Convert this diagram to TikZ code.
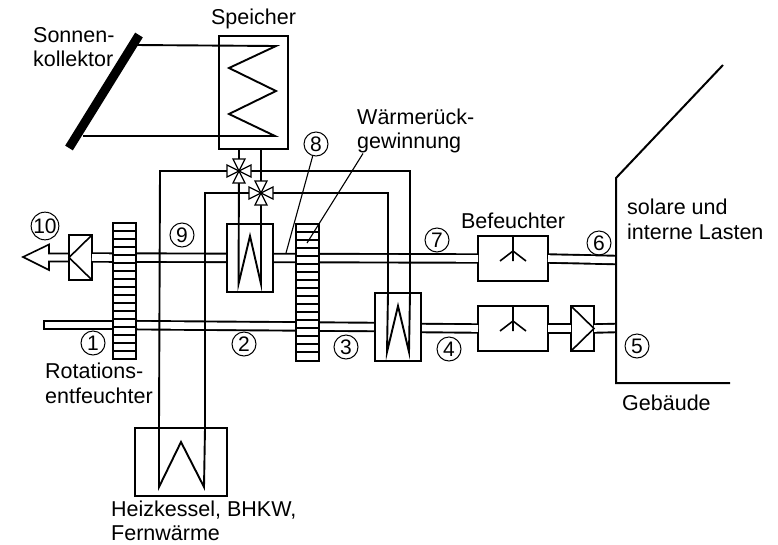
\documentclass[tikz,border=0pt]{standalone}
\usepackage{fontspec}
\setmainfont{Liberation Sans}
\usetikzlibrary{
  positioning,
  calc
}
\tikzset{
  anlage/.style={
    draw, fill=white, rectangle, inner sep=0pt, outer sep=0pt, line width=1.9pt
  },
  speicher/.style={anlage, minimum width=69pt, minimum height=113pt},
  waermetauscher/.style={anlage, minimum width=46pt, minimum height=68pt},
  kessel/.style={anlage, minimum width=92pt, minimum height=68pt},
  rotor/.style={anlage, minimum width=23pt},
  ventilator/.style={anlage, minimum width=23pt, minimum height=45pt},
  befeuchter/.style={anlage, minimum width=70pt, minimum height=45pt},
  einlass/.style={anlage, minimum width=69pt, minimum height=8.5pt},
  ventil/.style={circle, fill=black, inner sep=0pt, minimum size=3.5pt},
  ventilzweig/.style={draw, fill=white, line width=1.3pt},
  luft/.style={double, double distance=6.6pt, line width=1.9pt},
  rohr/.style={line width=1.9pt, line join=miter},
  fein/.style={line width=1.1pt},
  streifen/.style={line width=1.3pt},
  wand/.style={line width=2pt},
  nummer/.style={draw, circle, line width=1pt, minimum size=24pt, inner sep=0pt, font=\fontsize{21}{22}\selectfont},
  beschriftung/.style={align=left, inner sep=0pt, font=\fontsize{21.5}{24.5}\selectfont}
}

\begin{document}
\begin{tikzpicture}[x=1pt, y=-1pt]
  \useasboundingbox (0,0) rectangle (778,544);
  \coordinate (dachEnde) at (723,65);
  \coordinate (dachEcke) at (616,178);
  \coordinate (wandFuss) at (616,383);
  \coordinate (bodenEnde) at (730,383);
  \coordinate (wandOben) at (616,260);
  \coordinate (wandUnten) at (616,328);
  \coordinate (kollOben) at (139,35);
  \coordinate (kollUnten) at (69,148);
  \coordinate (leitung8) at (286,253);
  \coordinate (leitungRotor) at (307,243);

  % nodes
  \node[speicher] (sp) at (253.5,92.5) {};
  \node[ventilator] (fanA) at (80.5,257.5) {};
  \node[ventilator] (fanB) at (582.5,328.5) {};
  \node[befeuchter] (befA) at (513,258.5) {};
  \node[befeuchter] (befB) at (513,328.5) {};
  \node[einlass] (ein) at (78.5,325) {};

  % air ducts
  \draw[luft] (fanA.east) -- (befA.west);
  \draw[luft] (befA.east) -- (wandOben);
  \draw[luft] (ein.east) -- (375,327);
  \draw[luft] (421,328) -- (befB.west);
  \draw[luft] (befB.east) -- (fanB.west);
  \draw[luft] (fanB.east) -- (wandUnten);

  \node[waermetauscher] (wtA) at (250,258) {};
  \node[waermetauscher] (wtB) at (398,327) {};
  \node[kessel] (hk) at (181,462) {};
  \node[rotor, minimum height=136pt] (rotA) at (124.5,291) {};
  \node[rotor, minimum height=137pt] (rotB) at (307.5,292.5) {};
  \foreach \r in {rotA,rotB}
    \foreach \y in {8,16,...,128}
      \draw[streifen] ($(\r.north west)+(0pt,-\y pt)$) -- ($(\r.north east)+(0pt,-\y pt)$);

  % building
  \draw[wand] (dachEnde) -- (dachEcke) -- (wandFuss) -- (bodenEnde);

  % collector loop
  \draw[rohr] (135,45) -- (276,46) -- (229,68) -- (276,91) -- (229,114) -- (275,136) -- (83,136);
  \draw[line width=9pt] (kollOben) -- (kollUnten);

  % valves
  \node[ventil] (vA) at (239,171) {};
  \node[ventil] (vB) at (261,193) {};
  \draw[rohr] (sp.south -| vA) -- (vA) -- (238.5,284) -- (250,236) -- (261,284) -- (vB) -- (sp.south -| vB);
  \draw[rohr] (vA) -- (410,171) -- (410,293) -- (409,352) -- (398,306) -- (387,352) -- (388,293) -- (388,193) -- (vB);
  \draw[rohr] (vA) -- (160,171) -- (159,428) -- (159,487) -- (181,442) -- (204,487) -- (205,428) -- (205,193) -- (vB);
  \foreach \v in {vA,vB}
    \foreach \a in {0,90,180,270}
      \draw[ventilzweig, shift={(\v)}, rotate=\a] (0,0) -- (12,-6) -- (12,6) -- cycle;
  \node[ventil] at (vA) {};
  \node[ventil] at (vB) {};

  % fans
  \draw[line width=1.6pt] (fanA.north east) -- (fanA.west) -- (fanA.south east);
  \draw[line width=1.6pt] (fanB.north west) -- (fanB.east) -- (fanB.south west);
  \draw[line width=1.6pt] (fanA.west) ++(0,-4) -- ++(-20,0) -- ++(0,-9) -- ++(-26,12.5) -- ++(26,13) -- ++(0,-8.5) -- ++(20,0);

  % humidifiers
  \draw[line width=1.6pt] (befA.north) -- ++(0,25) (500,261) -- ($(befA.north)+(0,15)$) -- (526,261);
  \draw[line width=1.6pt] (befB.north) -- ++(0,25) (500,331) -- ($(befB.north)+(0,15)$) -- (526,331);

  % labels
  \node[beschriftung, above=7pt of sp] (lSp) {Speicher};
  \node[beschriftung, above=7pt of befA] (lBef) {Befeuchter};
  \node[beschriftung, anchor=west] (lKoll) at (33,47) {Sonnen-\\kollektor};
  \node[beschriftung, anchor=west] (lWrg) at (357,131) {Wärmerück-\\gewinnung};
  \node[beschriftung, anchor=west] (lLast) at (627,219.5) {solare und\\interne Lasten};
  \node[beschriftung, anchor=west] (lGeb) at (622,403) {Gebäude};
  \node[beschriftung, anchor=west] (lRot) at (45,383.5) {Rotations-\\entfeuchter};
  \node[beschriftung, anchor=west] (lHk) at (111,521) {Heizkessel, BHKW,\\[-1pt]Fernwärme};

  % numbers
  \node[nummer] (n10) at (45,226) {10};
  \node[nummer] (n9) at (182,235) {9};
  \node[nummer] (n8) at (316,144) {8};
  \node[nummer] (n7) at (437,240) {7};
  \node[nummer] (n6) at (599,243) {6};
  \node[nummer] (n5) at (637,346) {5};
  \node[nummer] (n4) at (449,349) {4};
  \node[nummer] (n3) at (346,347) {3};
  \node[nummer] (n2) at (244,344) {2};
  \node[nummer] (n1) at (93,343) {1};

  % leaders
  \draw[fein] (n8) -- (leitung8);
  \draw[fein] (lWrg.south west) ++(6,0) -- (leitungRotor);
\end{tikzpicture}
\end{document}
